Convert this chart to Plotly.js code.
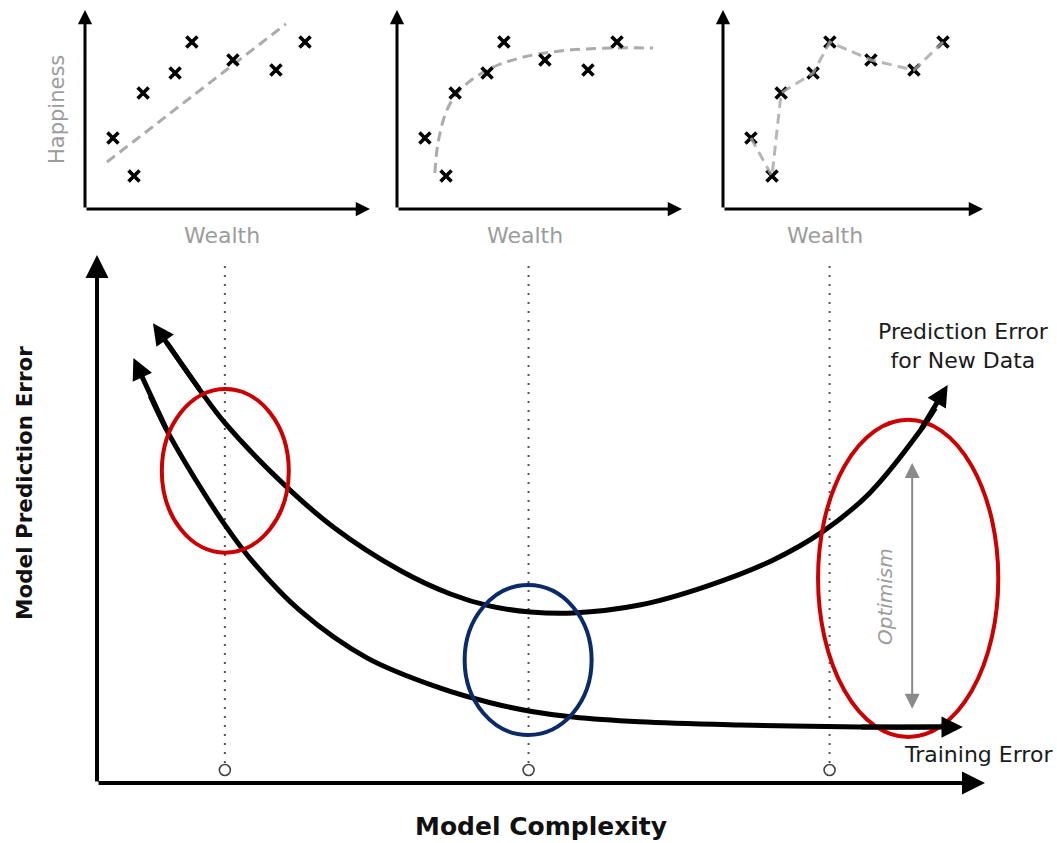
<!DOCTYPE html>
<html>
<head>
<meta charset="utf-8">
<script src="https://cdn.plot.ly/plotly-3.0.1.min.js"></script>
<style>html,body{margin:0;padding:0;background:#fff;}#chart{width:1057px;height:843px;}</style>
</head>
<body>
<div id="chart"></div>
<script>
// ---------- Top panels: observations (Wealth vs Happiness) ----------
const wealth    = [0.98, 1.72, 2.04, 3.16, 3.75, 5.19, 6.70, 7.72];
const happiness = [3.57, 1.66, 5.83, 6.83, 8.39, 7.49, 6.98, 8.39];

// Fit 1: straight line (under-fit)
const linearFitX = [0.77, 7.05];
const linearFitY = [2.36, 9.30];

// Fit 2: saturating curve (good fit)
const curveFitX = [1.33, 1.44, 1.75, 2.21, 3.16, 4.32, 5.72, 7.58, 8.98];
const curveFitY = [1.81, 3.32, 4.97, 5.98, 6.98, 7.59, 7.94, 8.09, 8.09];

// Fit 3: connect every point (over-fit) -> uses wealth / happiness directly

// ---------- Main panel: error vs model complexity ----------
const complexityNew = [0.63, 0.79, 1.16, 1.44, 2.09, 2.66, 3.41, 3.98, 4.43, 4.88, 5.36, 6.11, 6.87, 7.61, 8.18, 8.70, 9.27, 9.44, 9.58];
const errorNew      = [8.71, 8.33, 7.44, 6.82, 5.68, 4.85, 4.03, 3.58, 3.35, 3.24, 3.22, 3.37, 3.73, 4.22, 4.77, 5.49, 6.67, 7.10, 7.54];

const complexityTrain = [0.41, 0.60, 0.79, 1.16, 1.44, 1.72, 2.29, 3.04, 3.86, 4.43, 4.88, 5.36, 6.11, 7.24, 8.59, 9.49, 9.75];
const errorTrain      = [8.05, 7.33, 6.67, 5.61, 4.89, 4.26, 3.26, 2.37, 1.80, 1.52, 1.36, 1.25, 1.16, 1.10, 1.06, 1.06, 1.06];

// complexity of the three fitted models shown above
const fitComplexity = [1.44, 4.86, 8.25];

// ---------- Layout helpers ----------
const W = 1057, H = 843;
const dx = (a, b) => [a / W, b / W];
const dy = (top, bottom) => [1 - bottom / H, 1 - top / H];
const FONT = 'DejaVu Sans, Liberation Sans, Arial, sans-serif';

const hidden = {visible: false, fixedrange: true};
const layout = {
  width: W, height: H, autosize: false,
  margin: {l: 0, r: 0, t: 0, b: 0},
  paper_bgcolor: '#fff', plot_bgcolor: 'rgba(0,0,0,0)',
  showlegend: false,
  xaxis:  Object.assign({domain: dx(85, 370),  range: [0, 10],    anchor: 'y'},  hidden),
  yaxis:  Object.assign({domain: dy(10, 209),  range: [0, 10],    anchor: 'x'},  hidden),
  xaxis2: Object.assign({domain: dx(397, 682), range: [0, 10],    anchor: 'y2'}, hidden),
  yaxis2: Object.assign({domain: dy(10, 209),  range: [0, 10],    anchor: 'x2'}, hidden),
  xaxis3: Object.assign({domain: dx(723, 983), range: [0, 9.123], anchor: 'y3'}, hidden),
  yaxis3: Object.assign({domain: dy(10, 209),  range: [0, 10],    anchor: 'x3'}, hidden),
  xaxis4: Object.assign({domain: dx(97, 1057), range: [0, 10.811], anchor: 'y4'}, hidden),
  yaxis4: Object.assign({domain: dy(250, 783), range: [0, 10.095], anchor: 'x4'}, hidden),
  shapes: [],
  annotations: []
};

function arrow(xr, yr, x0, y0, x1, y1, w, size, color, both) {
  const a = {
    xref: xr, yref: yr, axref: xr, ayref: yr,
    x: x1, y: y1, ax: x0, ay: y0,
    text: '', font: {size: 1},
    showarrow: true, arrowhead: 2, arrowsize: size, arrowwidth: w,
    arrowcolor: color || '#000', standoff: 0
  };
  if (both) { a.arrowside = 'end+start'; a.startarrowhead = 2; a.startarrowsize = size; a.startstandoff = 0; }
  return a;
}
function label(px, py, text, font, angle) {
  return {xref: 'paper', yref: 'paper', x: px / W, y: 1 - py / H, text: text,
          showarrow: false, xanchor: 'center', yanchor: 'middle', align: 'center',
          textangle: angle || 0, font: Object.assign({family: FONT}, font)};
}

// axes of the three small panels
[['x', 'y', 10], ['x2', 'y2', 10], ['x3', 'y3', 9.123]].forEach(([xr, yr, xm]) => {
  layout.annotations.push(arrow(xr, yr, 0, 0, xm, 0, 3, 0.95));
  layout.annotations.push(arrow(xr, yr, 0, 0, 0, 10, 3, 0.95));
});
// main axes
layout.annotations.push(arrow('x4', 'y4', 0, 0, 10, 0, 4, 1.15));
layout.annotations.push(arrow('x4', 'y4', 0, 0, 0, 10, 4, 1.15));

// curve arrow heads: straight last stretch drawn from the 3rd point to the tip
const nN = complexityNew.length, nT = complexityTrain.length;
layout.annotations.push(arrow('x4', 'y4', complexityNew[2], errorNew[2], complexityNew[0], errorNew[0], 5, 0.85));
layout.annotations.push(arrow('x4', 'y4', complexityNew[nN - 3], errorNew[nN - 3], complexityNew[nN - 1], errorNew[nN - 1], 5, 0.85));
layout.annotations.push(arrow('x4', 'y4', complexityTrain[2], errorTrain[2], complexityTrain[0], errorTrain[0], 5, 0.85));
layout.annotations.push(arrow('x4', 'y4', complexityTrain[nT - 3], errorTrain[nT - 3], complexityTrain[nT - 1], errorTrain[nT - 1], 5, 0.85));

// optimism double arrow
layout.annotations.push(arrow('x4', 'y4', 9.18, 1.38, 9.18, 6.06, 2, 1.5, '#8a8a8a', true));

// text labels
const gray = {size: 21, color: '#9c9c9c'};
layout.annotations.push(label(57, 110, 'Happiness', gray, -90));
layout.annotations.push(label(222, 235, 'Wealth', {size: 22, color: '#9c9c9c'}));
layout.annotations.push(label(525, 235, 'Wealth', {size: 22, color: '#9c9c9c'}));
layout.annotations.push(label(825, 235, 'Wealth', {size: 22, color: '#9c9c9c'}));
layout.annotations.push(label(24, 483, 'Model Prediction Error', {size: 21.5, color: '#111', weight: 'bold'}, -90));
layout.annotations.push(label(541, 826, 'Model Complexity', {size: 25, color: '#111', weight: 'bold'}));
layout.annotations.push(label(963, 346, 'Prediction Error<br>for New Data', {size: 22, color: '#1a1a1a'}));
layout.annotations.push(label(978, 754, 'Training Error', {size: 22, color: '#1a1a1a'}));
layout.annotations.push(label(885, 597, 'Optimism', {size: 20, color: '#9c9c9c', style: 'italic'}, -90));

// highlight ellipses
const ell = (x0, x1, y0, y1, c) => ({type: 'circle', xref: 'x4', yref: 'y4', x0, x1, y0, y1,
  line: {color: c, width: 4}, fillcolor: 'rgba(0,0,0,0)', layer: 'above'});
layout.shapes.push(ell(0.73, 2.16, 4.36, 7.46, '#cc0000'));
layout.shapes.push(ell(4.14, 5.57, 0.91, 3.75, '#0b2a68'));
layout.shapes.push(ell(8.12, 10.15, 0.87, 6.88, '#cc0000'));

// ---------- Traces ----------
const xMarker = {symbol: 'x-thin', size: 11, line: {width: 3.6, color: '#000'}, color: '#000'};
const dashed = {color: '#ababab', width: 3, dash: '10px,6px'};

const traces = [];
// panel 1
traces.push({x: linearFitX, y: linearFitY, xaxis: 'x', yaxis: 'y', mode: 'lines', line: dashed, hoverinfo: 'skip'});
traces.push({x: wealth, y: happiness, xaxis: 'x', yaxis: 'y', mode: 'markers', marker: xMarker});
// panel 2
traces.push({x: curveFitX, y: curveFitY, xaxis: 'x2', yaxis: 'y2', mode: 'lines', line: Object.assign({shape: 'spline', smoothing: 1}, dashed), hoverinfo: 'skip'});
traces.push({x: wealth, y: happiness, xaxis: 'x2', yaxis: 'y2', mode: 'markers', marker: xMarker});
// panel 3
traces.push({x: wealth, y: happiness, xaxis: 'x3', yaxis: 'y3', mode: 'markers', marker: xMarker});
traces.push({x: wealth, y: happiness, xaxis: 'x3', yaxis: 'y3', mode: 'lines', line: {color: 'rgba(165,165,165,0.8)', width: 3, dash: '10px,6px'}, hoverinfo: 'skip'});

// main: dotted verticals at the three model complexities
const vx = [], vy = [];
fitComplexity.forEach(c => { vx.push(c, c, null); vy.push(0.38, 9.87, null); });
traces.push({x: vx, y: vy, xaxis: 'x4', yaxis: 'y4', mode: 'lines', line: {color: '#555', width: 2, dash: '2px,7px'}, hoverinfo: 'skip'});
traces.push({x: fitComplexity, y: fitComplexity.map(() => 0.246), xaxis: 'x4', yaxis: 'y4', mode: 'markers',
             marker: {symbol: 'circle-open', size: 11, line: {width: 1.6, color: '#444'}, color: '#444'}});

// main curves (tips drawn by arrow annotations)
traces.push({x: complexityNew.slice(1, -1), y: errorNew.slice(1, -1), xaxis: 'x4', yaxis: 'y4', mode: 'lines',
             line: {color: '#000', width: 5, shape: 'spline', smoothing: 1}, name: 'Prediction Error for New Data'});
traces.push({x: complexityTrain.slice(1, -1), y: errorTrain.slice(1, -1), xaxis: 'x4', yaxis: 'y4', mode: 'lines',
             line: {color: '#000', width: 5, shape: 'spline', smoothing: 1}, name: 'Training Error'});

Plotly.newPlot('chart', traces, layout, {staticPlot: true, displayModeBar: false});
</script>
</body>
</html>
